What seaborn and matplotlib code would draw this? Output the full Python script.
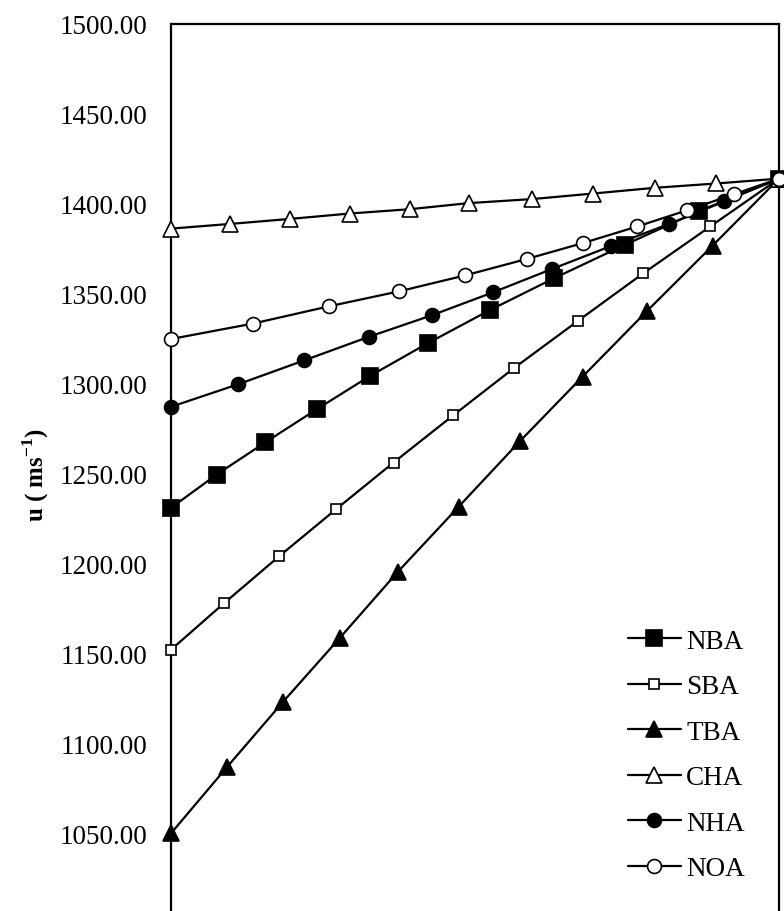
import matplotlib
matplotlib.use("Agg")
import matplotlib.pyplot as plt
import seaborn as sns
import pandas as pd

# data (x = mole fraction, u = ultrasonic velocity)
nba_x = [0, 0.075, 0.155, 0.240, 0.328, 0.422, 0.524, 0.630, 0.746, 0.869, 1.0]
nba_u = [1230.9, 1249.4, 1267.3, 1285.8, 1304.4, 1322.4, 1340.8, 1358.6, 1377.1, 1396.0, 1414.0]

sba_x = [0, 0.087, 0.178, 0.271, 0.366, 0.464, 0.564, 0.669, 0.777, 0.887, 1.0]
sba_u = [1152.0, 1177.8, 1204.0, 1230.0, 1256.1, 1282.3, 1308.6, 1334.8, 1361.4, 1387.4, 1414.0]

tba_x = [0, 0.092, 0.184, 0.278, 0.373, 0.473, 0.574, 0.677, 0.783, 0.891, 1.0]
tba_u = [1049.9, 1086.7, 1122.9, 1158.7, 1195.3, 1231.5, 1268.0, 1303.9, 1340.4, 1376.8, 1414.0]

cha_x = [0, 0.097, 0.196, 0.294, 0.393, 0.490, 0.593, 0.694, 0.796, 0.897, 1.0]
cha_u = [1386.2, 1388.8, 1391.6, 1394.6, 1397.0, 1400.4, 1402.6, 1405.7, 1408.9, 1411.3, 1414.0]

nha_x = [0, 0.111, 0.219, 0.326, 0.429, 0.530, 0.627, 0.723, 0.819, 0.910, 1.0]
nha_u = [1287.1, 1299.7, 1312.9, 1326.1, 1338.0, 1350.8, 1363.8, 1376.4, 1388.8, 1401.3, 1414.0]

noa_x = [0, 0.135, 0.260, 0.375, 0.484, 0.585, 0.678, 0.767, 0.848, 0.926, 1.0]
noa_u = [1324.8, 1333.4, 1343.0, 1351.3, 1360.2, 1369.3, 1378.2, 1387.4, 1396.3, 1405.3, 1414.0]

y_ticks = [1050, 1100, 1150, 1200, 1250, 1300, 1350, 1400, 1450, 1500]

series = [
    ("NBA", nba_x, nba_u, "s", 11, "black"),
    ("SBA", sba_x, sba_u, "s", 6.5, "white"),
    ("TBA", tba_x, tba_u, "^", 11.5, "black"),
    ("CHA", cha_x, cha_u, "^", 11.5, "white"),
    ("NHA", nha_x, nha_u, "o", 10, "black"),
    ("NOA", noa_x, noa_u, "o", 10, "white"),
]

sns.set_style("white")
plt.rcParams["font.family"] = ["Liberation Serif", "DejaVu Serif"]
plt.rcParams["text.color"] = "black"
plt.rcParams["axes.labelcolor"] = "black"
plt.rcParams["ytick.color"] = "black"
plt.rcParams["mathtext.fontset"] = "custom"
plt.rcParams["mathtext.rm"] = "Liberation Serif"
plt.rcParams["mathtext.bf"] = "Liberation Serif:bold"

fig = plt.figure(figsize=(7.84, 9.12), dpi=100)
ax = fig.add_axes([171 / 784, -0.0132, 608 / 784, 0.9858])

for name, xs, us, mk, ms, fc in series:
    df = pd.DataFrame({"x": xs, "u": us})
    sns.lineplot(data=df, x="x", y="u", ax=ax, sort=False, color="black",
                 linewidth=1.6, marker=mk, markersize=ms, markerfacecolor=fc,
                 markeredgecolor="black", markeredgewidth=1.2, label=name,
                 clip_on=False, zorder=3)

ax.set_xlim(0, 1)
ax.set_ylim(1000, 1500)
ax.set_yticks(y_ticks)
ax.set_yticklabels([f"{v:.2f}" for v in y_ticks], fontsize=19.5, color="black")
ax.tick_params(axis="y", length=0, pad=17)
ax.set_xticks([])
ax.set_xlabel("")
ax.set_ylabel(r"u ( ms$^{\mathbf{-1}}$)", fontsize=18, fontweight="bold")
ax.yaxis.set_label_coords(-0.197, 0.5)

for s in ax.spines.values():
    s.set_color("black")
    s.set_linewidth(1.6)

leg = ax.legend(loc="center left", bbox_to_anchor=(628 / 784, 1 - 756 / 912),
                bbox_transform=fig.transFigure, frameon=False, fontsize=19.5,
                handlelength=1.95, handletextpad=0.2, labelspacing=0.76,
                borderpad=0, borderaxespad=0)
for t in leg.get_texts():
    t.set_color("black")

fig.savefig("out.png", dpi=100)
